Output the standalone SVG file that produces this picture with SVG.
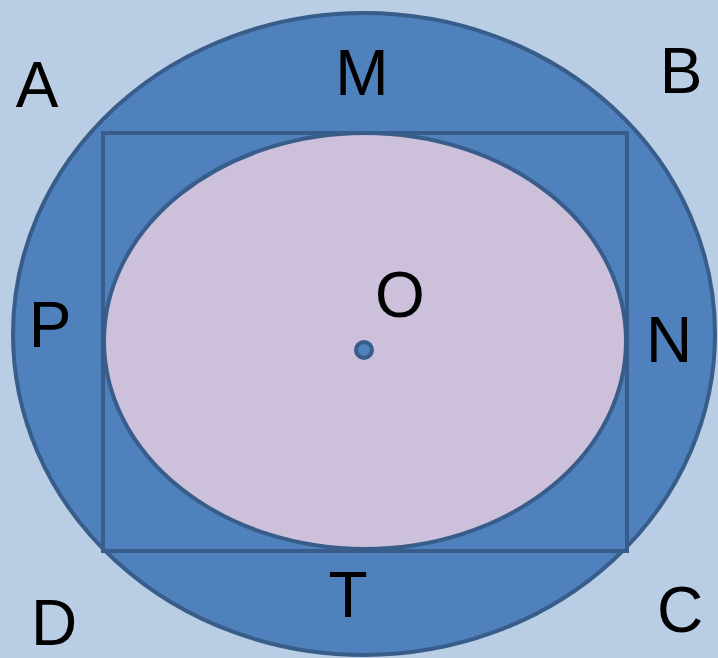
<svg xmlns="http://www.w3.org/2000/svg" width="718" height="658" viewBox="0 0 718 658">
<style>
.s{stroke:#385d8a;stroke-width:4}
.t{font-family:"Liberation Sans",Arial,sans-serif;font-size:64px;fill:#000;text-anchor:middle}
</style>
<rect width="718" height="658" fill="#b9cde5"/>
<g id="outer"><ellipse class="s" cx="364" cy="334" rx="351" ry="321" fill="#4f81bd"/></g>
<g id="square"><rect class="s" x="103" y="133" width="524" height="418" fill="#4f81bd"/></g>
<g id="inner"><ellipse class="s" cx="365" cy="341" rx="261" ry="208" fill="#ccc0da"/></g>
<g id="center"><circle class="s" cx="364" cy="350" r="8" stroke-width="3.5" fill="#4f81bd"/></g>
<g id="labels">
<text class="t" x="37" y="107">A</text>
<text class="t" x="362" y="95">M</text>
<text class="t" x="681" y="93">B</text>
<text class="t" x="50" y="347">P</text>
<text class="t" x="400" y="317">O</text>
<text class="t" x="669" y="362">N</text>
<text class="t" x="348" y="617">T</text>
<text class="t" x="54" y="645">D</text>
<text class="t" x="680" y="632">C</text>
</g>
</svg>
